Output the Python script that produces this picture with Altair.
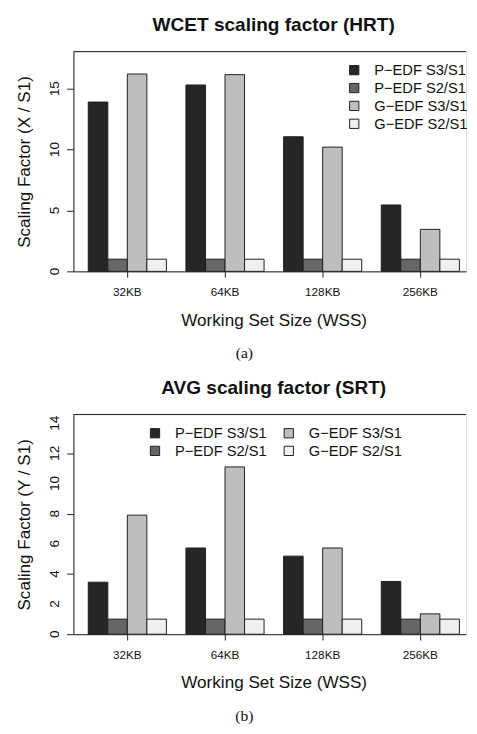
import altair as alt
import pandas as pd

sizes = ["32KB", "64KB", "128KB", "256KB"]
series = ["P−EDF S3/S1", "P−EDF S2/S1", "G−EDF S3/S1", "G−EDF S2/S1"]
colors = ["#262626", "#666666", "#bebebe", "#f0f0f0"]

wcet_p_s3 = [13.9, 15.3, 11.05, 5.45]
wcet_p_s2 = [1.0, 1.0, 1.0, 1.0]
wcet_g_s3 = [16.2, 16.15, 10.2, 3.45]
wcet_g_s2 = [1.0, 1.0, 1.0, 1.0]

avg_p_s3 = [3.45, 5.72, 5.18, 3.5]
avg_p_s2 = [1.0, 1.0, 1.0, 1.0]
avg_g_s3 = [7.9, 11.1, 5.72, 1.35]
avg_g_s2 = [1.0, 1.0, 1.0, 1.0]

wcet_ticks = [0, 5, 10, 15]
avg_ticks = [0, 2, 4, 6, 8, 10, 12, 14]

W, H = 402, 225
FONT = "Liberation Sans"
LINE = "#1e1e1e"


def make_df(vals):
    rows = []
    for s, v in zip(series, vals):
        for size, y in zip(sizes, v):
            rows.append({"size": size, "series": s, "value": y})
    return pd.DataFrame(rows)


def panel(df, title, ytitle, ymax, yticks, legend_cols, lx, ly, colpad, caption):
    yscale = alt.Scale(domain=[0, ymax], nice=False, zero=True)
    bars = alt.Chart(df).mark_bar(stroke=LINE, strokeWidth=1).encode(
        x=alt.X("size:N", sort=sizes,
                scale=alt.Scale(paddingInner=0.2, paddingOuter=0.11, align=0.69),
                axis=alt.Axis(title="Working Set Size (WSS)", labelAngle=0,
                              labelFont=FONT, labelFontSize=12, labelColor="#111",
                              labelBaseline="alphabetic", labelPadding=19,
                              tickSize=6, tickColor=LINE, domainColor=LINE,
                              titleFont=FONT, titleFontSize=17.5, titleFontWeight="normal",
                              titleColor="#111", titleBaseline="alphabetic",
                              titleX=205, titleY=55)),
        xOffset=alt.XOffset("series:N", sort=series,
                            scale=alt.Scale(paddingInner=0, paddingOuter=0)),
        y=alt.Y("value:Q", scale=yscale,
                axis=alt.Axis(title=ytitle, values=yticks, grid=False, labels=False,
                              tickSize=7, tickColor=LINE,
                              domainColor=LINE, titleFont=FONT, titleFontSize=17.5,
                              titleFontWeight="normal", titleColor="#111",
                              titleAngle=270, titleBaseline="alphabetic",
                              titleAlign="center", titleX=-45, titleY=H / 2)),
        color=alt.Color("series:N",
                        scale=alt.Scale(domain=series, range=colors),
                        legend=alt.Legend(title=None, orient="none", legendX=lx, legendY=ly,
                                          columns=legend_cols, symbolType="square",
                                          symbolSize=90, symbolStrokeColor=LINE,
                                          symbolStrokeWidth=1, labelFont=FONT,
                                          labelFontSize=15, labelColor="#111",
                                          labelOffset=13, rowPadding=2.3,
                                          columnPadding=colpad, padding=0)),
    )
    tick_df = pd.DataFrame({"t": yticks, "lab": [str(t) for t in yticks]})
    ylabels = alt.Chart(tick_df).mark_text(font=FONT, fontSize=14, color="#111", angle=270,
                                           baseline="alphabetic", align="center").encode(
        y=alt.Y("t:Q", scale=yscale), x=alt.value(-15), text="lab:N")
    one = pd.DataFrame({"k": [0]})
    top = alt.Chart(one).mark_rule(color=LINE, strokeWidth=1).encode(
        x=alt.value(0), x2=alt.value(W), y=alt.value(0))
    ttl = alt.Chart(one).mark_text(text=title, font=FONT, fontSize=19.5, fontWeight="bold",
                                   color="#111", baseline="alphabetic", align="center").encode(
        x=alt.value(205), y=alt.value(-21))
    cap = alt.Chart(one).mark_text(text=caption, font="Liberation Serif", fontSize=16,
                                   color="#111", baseline="alphabetic", align="center").encode(
        x=alt.value(175), y=alt.value(H + 89))
    return alt.layer(bars, ylabels, top, ttl, cap).properties(width=W, height=H)


top_df = make_df([wcet_p_s3, wcet_p_s2, wcet_g_s3, wcet_g_s2])
bot_df = make_df([avg_p_s3, avg_p_s2, avg_g_s3, avg_g_s2])

p1 = panel(top_df, "WCET scaling factor (HRT)", "Scaling Factor (X / S1)", 18.04,
           wcet_ticks, 1, 280, 11.5, 0, "(a)")
p2 = panel(bot_df, "AVG scaling factor (SRT)", "Scaling Factor (Y / S1)", 14.58,
           avg_ticks, 2, 76, 11.5, 15, "(b)")

chart = alt.vconcat(p1, p2, spacing=15.5).resolve_scale(color="independent").properties(
    padding={"left": 7, "right": 0, "top": -2, "bottom": 0}
).configure_view(stroke=None).configure(background="white")

chart.save("out.html", embed_options={"renderer": "svg", "actions": False})
